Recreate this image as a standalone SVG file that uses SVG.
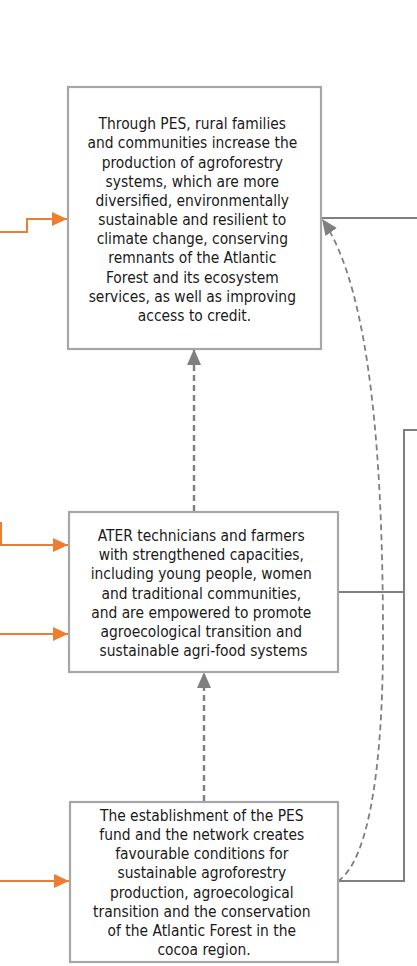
<svg xmlns="http://www.w3.org/2000/svg" width="417" height="966" viewBox="0 0 417 966">
  <style>
    .box { fill: #ffffff; stroke: #a6a6a6; stroke-width: 2.2; }
    .txt { font-family: 'DejaVu Sans Condensed', 'DejaVu Sans', sans-serif; font-stretch: condensed; font-size: 15.4px; fill: #1a1a1a; text-anchor: middle; }
    .orange { fill: none; stroke: #ed7d31; stroke-width: 2; }
    .grey { fill: none; stroke: #7f7f7f; stroke-width: 2; }
    .dash { fill: none; stroke: #7f7f7f; stroke-width: 2.4; stroke-dasharray: 6 4; }
    .thin { stroke-width: 1.8; }
  </style>
  <defs>
    <marker id="ah-orange" markerUnits="userSpaceOnUse" markerWidth="16" markerHeight="15" refX="15" refY="7" orient="auto">
      <path d="M0,0 L15,7 L0,14 z" fill="#ed7d31"/>
    </marker>
    <marker id="ah-grey" markerUnits="userSpaceOnUse" markerWidth="17" markerHeight="15" refX="16" refY="7" orient="auto">
      <path d="M0,0 L16,7 L0,14 z" fill="#7f7f7f"/>
    </marker>
  </defs>

  <g id="connectors">
    <!-- inputs from the left -->
    <path class="orange" d="M0,232 H27 V219 H67" marker-end="url(#ah-orange)"/>
    <path class="orange" d="M1,522 V545 H68" marker-end="url(#ah-orange)"/>
    <path class="orange" d="M0,634 H68" marker-end="url(#ah-orange)"/>
    <path class="orange" d="M0,881 H69" marker-end="url(#ah-orange)"/>
    <!-- upward dashed links between the outcome boxes -->
    <path class="dash" d="M194,511 V349" marker-end="url(#ah-grey)"/>
    <path class="dash" d="M204,801 V672" marker-end="url(#ah-grey)"/>
    <!-- curved dashed link from the fund box to the top box -->
    <path class="dash thin" d="M338,881 C370,860 383,760 383,640 C383,470 372,290 322,219" marker-end="url(#ah-grey)"/>
    <!-- solid links to the right margin -->
    <path class="grey" d="M321,218 H417"/>
    <path class="grey" d="M338,592 H404"/>
    <path class="grey" d="M338,881 H404 V430 H417"/>
  </g>

  <g id="node-top">
    <rect class="box" x="68" y="87" width="253" height="262"/>
    <text class="txt">
      <tspan x="194.5" y="129.3">Through PES, rural families</tspan>
      <tspan x="194.5" y="148.45">and communities increase the</tspan>
      <tspan x="194.5" y="167.6">production of agroforestry</tspan>
      <tspan x="194.5" y="186.75">systems, which are more</tspan>
      <tspan x="194.5" y="205.9">diversified, environmentally</tspan>
      <tspan x="194.5" y="225.05">sustainable and resilient to</tspan>
      <tspan x="194.5" y="244.2">climate change, conserving</tspan>
      <tspan x="194.5" y="263.35">remnants of the Atlantic</tspan>
      <tspan x="194.5" y="282.5">Forest and its ecosystem</tspan>
      <tspan x="194.5" y="301.65">services, as well as improving</tspan>
      <tspan x="194.5" y="320.8">access to credit.</tspan>
    </text>
  </g>

  <g id="node-capacities">
    <rect class="box" x="69" y="512" width="269" height="160"/>
    <text class="txt">
      <tspan x="203.5" y="541">ATER technicians and farmers</tspan>
      <tspan x="203.5" y="560.2">with strengthened capacities,</tspan>
      <tspan x="203.5" y="579.4">including young people, women</tspan>
      <tspan x="203.5" y="598.6">and traditional communities,</tspan>
      <tspan x="203.5" y="617.8">and are empowered to promote</tspan>
      <tspan x="203.5" y="637">agroecological transition and</tspan>
      <tspan x="203.5" y="656.2">sustainable agri-food systems</tspan>
    </text>
  </g>

  <g id="node-fund">
    <rect class="box" x="70" y="802" width="268" height="160"/>
    <text class="txt">
      <tspan x="204" y="821">The establishment of the PES</tspan>
      <tspan x="204" y="840.15">fund and the network creates</tspan>
      <tspan x="204" y="859.3">favourable conditions for</tspan>
      <tspan x="204" y="878.45">sustainable agroforestry</tspan>
      <tspan x="204" y="897.6">production, agroecological</tspan>
      <tspan x="204" y="916.75">transition and the conservation</tspan>
      <tspan x="204" y="935.9">of the Atlantic Forest in the</tspan>
      <tspan x="204" y="955">cocoa region.</tspan>
    </text>
  </g>
</svg>
